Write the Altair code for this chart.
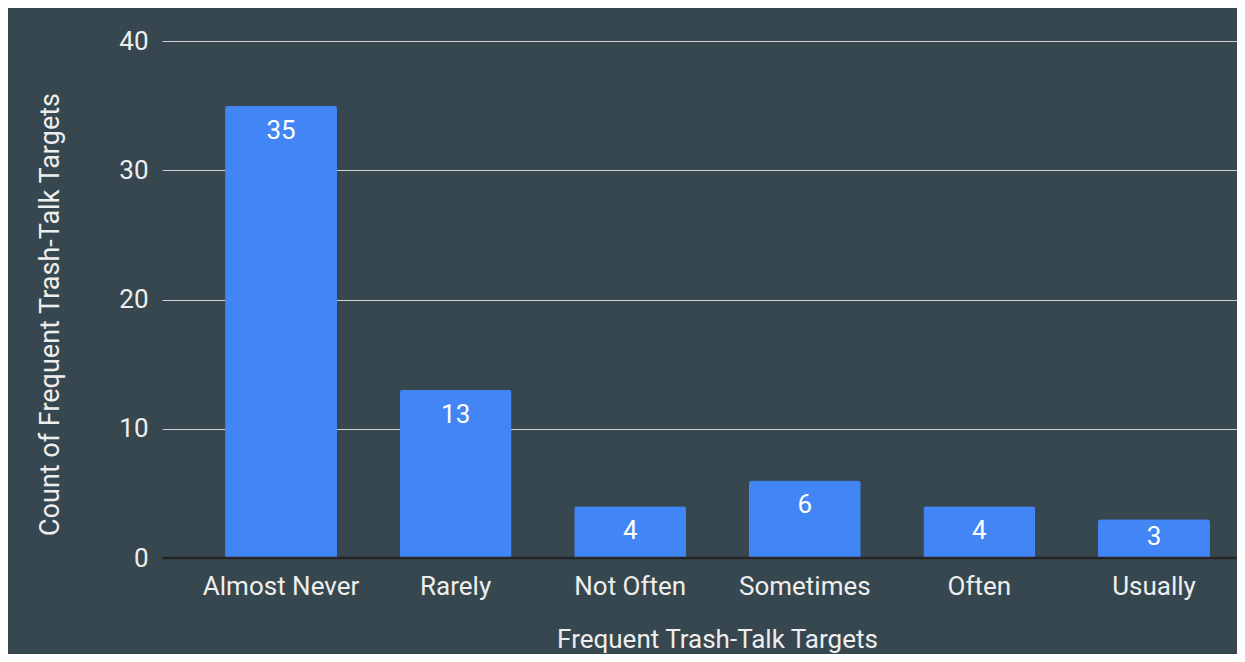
import altair as alt
import pandas as pd

categories = ["Almost Never", "Rarely", "Not Often", "Sometimes", "Often", "Usually"]
counts = [35, 13, 4, 6, 4, 3]
y_ticks = [0, 10, 20, 30, 40]

df = pd.DataFrame({"category": categories, "count": counts})

BG = "#37474f"
FONT = "Roboto"
TXT = "#eeeeee"

x_enc = alt.X(
    "category:N",
    sort=categories,
    title="Frequent Trash-Talk Targets",
    scale=alt.Scale(paddingInner=0.3585, paddingOuter=0.258, align=0.7),
    axis=alt.Axis(
        labelAngle=0, labelFont=FONT, labelFontSize=26, labelColor=TXT,
        labelBaseline="alphabetic", labelPadding=36,
        ticks=False, domain=False,
        titleFont=FONT, titleFontSize=26, titleFontWeight="normal", titleColor=TXT,
        titleX=555, titleY=89, titleBaseline="alphabetic", titleAlign="center",
    ),
)

y_enc = alt.Y(
    "count:Q",
    title="Count of Frequent Trash-Talk Targets",
    scale=alt.Scale(domain=[0, 40], nice=False),
    axis=alt.Axis(
        values=y_ticks, labelFont=FONT, labelFontSize=26, labelColor=TXT,
        labelPadding=14, ticks=False, domain=False,
        grid=True, gridColor="#d0d0d0", gridWidth=1.2,
        titleFont=FONT, titleFontSize=27, titleFontWeight="normal", titleColor=TXT,
        titleX=-98, titleY=273, titleBaseline="bottom", titleAlign="center",
    ),
)

base = alt.Chart(df)

bars = base.mark_bar(color="#4285f4", cornerRadiusTopLeft=3, cornerRadiusTopRight=3).encode(
    x=x_enc, y=y_enc
)

labels_big = base.transform_filter(alt.datum["count"] >= 4).mark_text(
    font=FONT, fontSize=26, color="white", baseline="middle", dy=25
).encode(x=x_enc, y=y_enc, text="count:Q")

labels_small = base.transform_filter(alt.datum["count"] < 4).mark_text(
    font=FONT, fontSize=26, color="white", baseline="middle", dy=18
).encode(x=x_enc, y=y_enc, text="count:Q")

baseline = alt.Chart(pd.DataFrame({"zero": [0]})).mark_rule(
    color="#262626", strokeWidth=2.5
).encode(y=alt.Y("zero:Q", scale=alt.Scale(domain=[0, 40], nice=False)))

chart = (
    alt.layer(bars, labels_big, labels_small, baseline)
    .properties(
        width=1075,
        height=517,
        background=BG,
        padding={"left": 154, "top": 33, "right": 0, "bottom": 96},
        autosize=alt.AutoSizeParams(type="none"),
    )
    .configure_view(stroke=None)
)

chart.save("out.html", embed_options={"renderer": "svg", "actions": False})
